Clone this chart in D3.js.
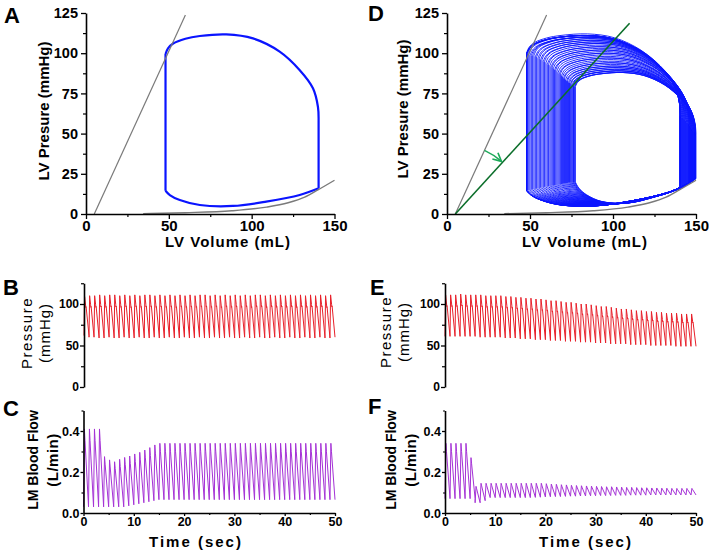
<!DOCTYPE html>
<html><head><meta charset="utf-8">
<script src="https://cdn.jsdelivr.net/npm/d3@7"></script>
<style>body{margin:0;background:#fff}svg{display:block}text{font-family:"Liberation Sans",Arial,sans-serif}</style>
</head><body><svg id="c" width="709" height="553"></svg>
<script>
// ---------- data ----------
const volumeTicks=[0,50,100,150], volumeMinor=[25,75,125];
const lvpTicks=[0,25,50,75,100,125], lvpMinor=[12.5,37.5,62.5,87.5,112.5];
const pressTicks=[0,50,100], pressMinor=[25,75,125];
const flowTicks=[0,0.2,0.4], flowMinor=[0.1,0.3,0.5];
const timeTicks=[0,10,20,30,40,50], timeMinor=[5,15,25,35,45];

// baseline PV loop (panel A) : filling limb and ejection limb [volume mL, pressure mmHg]
const fillA=[[48,14.5],[50.6,11.8],[56.6,8.7],[68.7,5.6],[88.7,5],[108.8,7.7],[129,11.8],[140.4,16]];
const ejectA=[[140.4,58],[140,66.7],[137,78.2],[128.9,89.6],[116.9,101],[100.8,109.2],[84.7,111.7],[68.7,110.7],[60,109],[52.6,106],[49.5,103],[48,99.5]];
const espvr=[[5,0],[60,123.75]];
const espvrIschemia=[[5,0],[110,118.6]];
const edpvr=[[34.5,0.2],[60,0.8],[88,2],[109,4.3],[122,7],[132,10.5],[140,15],[150,21]];

// panel D: per-beat end-systolic / end-diastolic volumes
const dESV=[48,48,48,48,48,48,48.6,49.3,50,50.8,51.6,52.4,53.2,54,54.8,55.6,56.4,57.2,58,58.8,59.6,60.4,61.2,62,62.7,63.4,64.1,64.8,65.5,66.2,66.9,67.6,68.3,69,69.6,70.2,70.8,71.4,72,72.6,73.2,73.8,74.3,74.8,75.3,75.8,76.2,76.6,77,77.3];
const dEDV=[140.4,140.4,140.4,140.4,140.4,140.4,140.6,140.9,141.2,141.5,141.8,142.1,142.4,142.7,143,143.3,143.6,143.9,144.2,144.5,144.8,145.1,145.4,145.6,145.8,146,146.2,146.4,146.6,146.8,147,147.2,147.4,147.6,147.8,148,148.2,148.4,148.6,148.8,149,149.1,149.2,149.3,149.4,149.5,149.6,149.7,149.8,149.9];

// aortic pressure per beat (B: control, E: ischemia)
const bSys=[109,110,110,111,110,111,111,110,111,110,111,110,111,111,110,111,110,111,110,111,110,111,110,111,111,110,111,110,111,110,111,110,111,110,111,111,110,111,110,111,110,111,110,111,110,111,110,111,110,111];
const bDia=[62,60,60,59,60,60,59,60,60,59,60,60,59,60,60,59,60,60,59,60,60,59,60,60,59,60,60,59,60,60,59,60,60,59,60,60,59,60,60,59,60,60,59,60,60,59,60,60,59,60];
const eSys=[111,111,111,112,111,111,111,111,110,110,110,110,109,109,108,108,107,107,106,106,105,104,104,103,102,102,101,100,100,99,98,97,97,96,95,94,94,93,92,92,91,91,90,90,89,89,89,88,88,88];
const eDia=[61,61,61,61,61,61,61,60,60,60,60,60,59,59,59,58,58,58,57,57,57,56,56,56,55,55,55,54,54,54,53,53,53,52,52,52,52,51,51,51,51,50,50,50,50,50,49,49,49,49];
// LM blood flow per beat (C: control, F: ischemia)
const cMax=[0.41,0.41,0.41,0.41,0.275,0.259,0.25,0.262,0.271,0.278,0.288,0.296,0.307,0.319,0.332,0.34,0.34,0.34,0.34,0.34,0.34,0.34,0.34,0.34,0.34,0.34,0.34,0.34,0.34,0.34,0.34,0.34,0.34,0.34,0.34,0.34,0.34,0.34,0.34,0.34,0.34,0.34,0.34,0.34,0.34,0.34,0.34,0.34,0.34,0.34];
const cMin=[0.03,0.03,0.03,0.03,0.03,0.03,0.03,0.03,0.035,0.04,0.045,0.05,0.055,0.06,0.065,0.065,0.065,0.065,0.065,0.065,0.065,0.065,0.065,0.065,0.065,0.065,0.065,0.065,0.065,0.065,0.065,0.065,0.065,0.065,0.065,0.065,0.065,0.065,0.065,0.065,0.065,0.065,0.065,0.065,0.065,0.065,0.065,0.065,0.065,0.065];
const fMax=[0.34,0.34,0.34,0.34,0.34,0.27,0.13,0.145,0.145,0.145,0.145,0.145,0.145,0.145,0.145,0.145,0.145,0.145,0.145,0.145,0.143,0.141,0.14,0.138,0.137,0.135,0.134,0.133,0.132,0.131,0.13,0.129,0.128,0.128,0.127,0.126,0.125,0.125,0.124,0.123,0.123,0.122,0.122,0.121,0.121,0.12,0.12,0.12,0.12,0.12];
const fMin=[0.07,0.07,0.07,0.07,0.07,0.07,0.05,0.06,0.075,0.075,0.075,0.075,0.075,0.075,0.075,0.075,0.075,0.076,0.077,0.078,0.079,0.08,0.08,0.081,0.082,0.082,0.083,0.083,0.084,0.084,0.085,0.085,0.085,0.086,0.086,0.086,0.087,0.087,0.087,0.087,0.088,0.088,0.088,0.088,0.088,0.088,0.088,0.088,0.088,0.088];
// normalized single-beat waveform shapes [fraction of beat, fraction of range]
const aoTemplate=[[0,0],[0.12,1],[0.32,0.78],[0.36,0.72],[0.42,0.74],[1,0]];
const flowTemplate=[[0,0],[0.18,1],[0.3,0.85],[1,0]];
const beatPeriod=1.0;

// ---------- drawing ----------
const svg=d3.select("#c");
const FONT='"Liberation Sans",Arial,sans-serif';

const xA=d3.scaleLinear([0,150],[86,334.5]), yA=d3.scaleLinear([0,125],[214,13]);
const xD=d3.scaleLinear([0,150],[447,696]), yD=d3.scaleLinear([0,125],[214,13]);
const xB=d3.scaleLinear([0,50],[84,335]), yB=d3.scaleLinear([0,125],[387,283.25]);
const xE=d3.scaleLinear([0,50],[445,696]), yE=d3.scaleLinear([0,125],[387,283.25]);
const xC=d3.scaleLinear([0,50],[83.5,335]), yC=d3.scaleLinear([0,0.5],[513,410.5]);
const xF=d3.scaleLinear([0,50],[445,696]), yF=d3.scaleLinear([0,0.5],[513,410.5]);

function styleAxis(g,fs){
  g.select(".domain").attr("stroke","#000").attr("stroke-width",1.6);
  g.selectAll(".tick line").attr("stroke","#000").attr("stroke-width",1.3);
  g.selectAll("text").attr("font-size",fs).attr("font-weight","bold").attr("fill","#000").attr("font-family",FONT);
}
function axis(kind,scale,pos,major,minor,fmt,size,pad,minorSize,fs){
  const mk=kind==="left"?d3.axisLeft:d3.axisBottom;
  const tr=kind==="left"?`translate(${pos},0)`:`translate(0,${pos})`;
  const g=svg.append("g").attr("transform",tr);
  g.call(mk(scale).tickValues(major).tickFormat(fmt).tickSize(size).tickPadding(pad).tickSizeOuter(0));
  styleAxis(g,fs);
  const gm=svg.append("g").attr("transform",tr);
  gm.call(mk(scale).tickValues(minor).tickFormat("").tickSize(minorSize).tickSizeOuter(0));
  gm.select(".domain").remove();
  gm.selectAll("line").attr("stroke","#000").attr("stroke-width",1.2);
}
function label(txt,x,y,fs,weight,rot,ls){
  const t=svg.append("text").attr("font-family",FONT).attr("font-size",fs).attr("font-weight",weight)
    .attr("text-anchor","middle").attr("fill","#000").text(txt);
  if(ls) t.attr("letter-spacing",ls);
  t.attr("transform",`translate(${x},${y})`+(rot?" rotate(-90)":""));
  return t;
}
function panelLetter(txt,x,y){
  svg.append("text").attr("x",x).attr("y",y).attr("font-family",FONT).attr("font-size",22).attr("font-weight","bold").text(txt);
}

// piecewise EDPVR lookup from its read points
const edpvrAt=d3.scaleLinear(edpvr.map(d=>d[0]),edpvr.map(d=>d[1]));
const A_ESV=fillA[0][0], A_EDV=fillA[fillA.length-1][0];
const A_PSYS=d3.max(ejectA,d=>d[1]), A_PDIA=ejectA[0][1], A_PED=edpvrAt(A_EDV);

function loopPath(xs,ys,fill,eject){
  const ctx=d3.path();
  const lg=d3.line().x(d=>xs(d[0])).y(d=>ys(d[1])).context(ctx);
  lg.curve(d3.curveCatmullRom)(fill);
  lg.curve(d3.curveLinear)([fill[fill.length-1],eject[0]]);
  lg.curve(d3.curveCatmullRom)(eject);
  lg.curve(d3.curveLinear)([eject[eject.length-1],fill[0]]);
  return ctx.toString();
}
function beatLoop(k){
  const esv=dESV[k], edv=dEDV[k], psys=eSys[k], pdia=eDia[k], ped=edpvrAt(edv);
  const mapV=v=>esv+(v-A_ESV)*(edv-esv)/(A_EDV-A_ESV);
  const fill=fillA.map(([v,p])=>[mapV(v),p*ped/A_PED]);
  const ej=ejectA.map(([v,p])=>[mapV(v),pdia+(p-A_PDIA)*(psys-pdia)/(A_PSYS-A_PDIA)]);
  return {fill,ej};
}
function beatSeries(maxArr,minArr,template){
  const pts=[];
  maxArr.forEach((mx,k)=>{const mn=minArr[k];template.forEach(([f,a])=>pts.push([(k+f)*beatPeriod,mn+a*(mx-mn)]));});
  return pts;
}

// ---- Panel A ----
const lineA=d3.line().x(d=>xA(d[0])).y(d=>yA(d[1]));
svg.append("path").attr("d",loopPath(xA,yA,fillA,ejectA)).attr("fill","none").attr("stroke","#0a14ff").attr("stroke-width",2.2);
svg.append("path").attr("d",lineA(espvr)).attr("fill","none").attr("stroke","#7a7a7a").attr("stroke-width",1.2);
svg.append("path").attr("d",lineA.curve(d3.curveMonotoneX)(edpvr)).attr("fill","none").attr("stroke","#7a7a7a").attr("stroke-width",1.4);
axis("left",yA,86,lvpTicks,lvpMinor,d3.format("d"),5,3,3,14.5);
axis("bottom",xA,214,volumeTicks,volumeMinor,d3.format("d"),5,1,3,15);

// ---- Panel D ----
const gLoops=svg.append("g");
dESV.forEach((_,k)=>{
  const {fill,ej}=beatLoop(k);
  gLoops.append("path").attr("d",loopPath(xD,yD,fill,ej)).attr("fill","none").attr("stroke","#0a14ff").attr("stroke-width",0.9);
});
const lineD=d3.line().x(d=>xD(d[0])).y(d=>yD(d[1]));
svg.append("path").attr("d",lineD(espvr)).attr("fill","none").attr("stroke","#7a7a7a").attr("stroke-width",1.2);
svg.append("path").attr("d",d3.line().x(d=>xD(d[0])).y(d=>yD(d[1])).curve(d3.curveMonotoneX)(edpvr)).attr("fill","none").attr("stroke","#7a7a7a").attr("stroke-width",1.4);
svg.append("path").attr("d",lineD(espvrIschemia)).attr("fill","none").attr("stroke","#0b6e2a").attr("stroke-width",1.6);
// rotation arrow from control ESPVR to ischemic ESPVR
{
  const ox=xD(espvr[0][0]), oy=yD(espvr[0][1]);
  const a1=Math.atan2(yD(espvr[1][1])-oy,xD(espvr[1][0])-ox);
  const a2=Math.atan2(yD(espvrIschemia[1][1])-oy,xD(espvrIschemia[1][0])-ox);
  const r=70;
  const defs=svg.append("defs");
  defs.append("marker").attr("id","ah").attr("viewBox","0 0 10 10").attr("refX",9).attr("refY",5)
    .attr("markerWidth",7).attr("markerHeight",7).attr("orient","auto")
    .append("path").attr("d","M1,1 L9,5 L1,9").attr("fill","none").attr("stroke","#1daa5a").attr("stroke-width",1.6);
  const p=d3.path(); p.arc(ox,oy,r,a1,a2-0.02,false);
  svg.append("path").attr("d",p.toString()).attr("fill","none").attr("stroke","#1daa5a").attr("stroke-width",1.5).attr("marker-end","url(#ah)");
}
axis("left",yD,447,lvpTicks,lvpMinor,d3.format("d"),5,3,3,14.5);
axis("bottom",xD,214,volumeTicks,volumeMinor,d3.format("d"),5,1,3,15);

// ---- Panel B / E ----
const bPts=beatSeries(bSys,bDia,aoTemplate), ePts=beatSeries(eSys,eDia,aoTemplate);
svg.append("path").attr("d",d3.line().x(d=>xB(d[0])).y(d=>yB(d[1]))(bPts)).attr("fill","none").attr("stroke","#e8202a").attr("stroke-width",1);
svg.append("path").attr("d",d3.line().x(d=>xE(d[0])).y(d=>yE(d[1]))(ePts)).attr("fill","none").attr("stroke","#e8202a").attr("stroke-width",1);
axis("left",yB,84,pressTicks,pressMinor,d3.format("d"),4,1,3,12);
axis("left",yE,445,pressTicks,pressMinor,d3.format("d"),4,1,3,12);

// ---- Panel C / F ----
const cPts=beatSeries(cMax,cMin,flowTemplate), fPts=beatSeries(fMax,fMin,flowTemplate);
svg.append("path").attr("d",d3.line().x(d=>xC(d[0])).y(d=>yC(d[1]))(cPts)).attr("fill","none").attr("stroke","#a532d6").attr("stroke-width",1);
svg.append("path").attr("d",d3.line().x(d=>xF(d[0])).y(d=>yF(d[1]))(fPts)).attr("fill","none").attr("stroke","#a532d6").attr("stroke-width",1);
axis("left",yC,83.5,flowTicks,flowMinor,d3.format(".1f"),3,1,2,12.5);
axis("bottom",xC,513,timeTicks,timeMinor,d3.format("d"),3,1,2,12.5);
axis("left",yF,445,flowTicks,flowMinor,d3.format(".1f"),3,1,2,12.5);
axis("bottom",xF,513,timeTicks,timeMinor,d3.format("d"),3,1,2,12.5);

// ---- titles ----
label("LV Presure (mmHg)",48.5,111,15,"bold",true);
label("LV Presure (mmHg)",408,109,15,"bold",true);
label("LV Volume (mL)",228,247,15,"bold",false,1);
label("LV Volume (mL)",585,247,15,"bold",false,1);
label("Pressure",32,333,15,"normal",true,1.5);
label("(mmHg)",50,333,15,"normal",true,1);
label("Pressure",391,332,15,"normal",true,1.5);
label("(mmHg)",409,332,15,"normal",true,1);
label("LM Blood Flow",38,460,14,"bold",true);
label("(L/min)",58,460,15,"bold",true,0.5);
label("LM Blood Flow",396,460,14,"bold",true);
label("(L/min)",416,460,15,"bold",true,0.5);
label("Time (sec)",196,547,15,"bold",false,2);
label("Time (sec)",586,547,15,"bold",false,2);
panelLetter("A",4,23); panelLetter("D",368,21);
panelLetter("B",3,295); panelLetter("E",370,295);
panelLetter("C",3,416); panelLetter("F",368,414);
</script></body></html>
